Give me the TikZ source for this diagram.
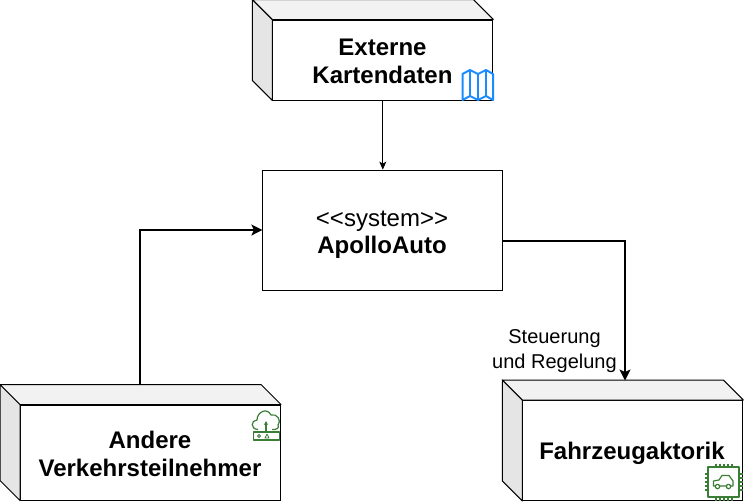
\documentclass[tikz,border=0pt]{standalone}
\usepackage{fontspec}
\setmainfont{Liberation Sans}
\usetikzlibrary{arrows.meta,calc}
\definecolor{mapblue}{HTML}{1A8CFF}
\definecolor{icongreen}{HTML}{3A7D34}
\tikzset{
  frontbox/.style={draw,fill=white,line width=1pt,inner sep=0pt},
  boxtext/.style={align=center,inner sep=0pt,font=\fontsize{24}{28}\selectfont\bfseries},
  sideface/.style={draw,line width=1pt,line join=round},
  flow/.style={line width=1.5pt,-{Stealth[length=11pt,width=11pt,inset=2.5pt]}},
  thinflow/.style={line width=0.8pt,-{Stealth[length=8pt,width=7pt,inset=2pt]}},
  mapicon/.style={draw=mapblue,line width=2pt,line join=round},
  greenicon/.style={draw=icongreen,line width=1.2pt,line join=round},
}
\newcommand{\sidefaces}[1]{
  \draw[sideface,fill=black!10] (#1.north west) -- ++(-20,-20) -- ($(#1.south west)+(-20,-20)$) -- (#1.south west) -- cycle;
  \draw[sideface,fill=black!5] (#1.north west) -- ++(-20,-20) -- ($(#1.north east)+(-20,-20)$) -- (#1.north east) -- cycle;
}
\begin{document}
\begin{tikzpicture}[x=1pt,y=-1pt]
  \useasboundingbox (0,0) rectangle (744,501);

  % boxes
  \node[frontbox,minimum width=220pt,minimum height=80pt] (karten) at (382.8,60) {};
  \node[frontbox,minimum width=260pt,minimum height=95pt] (andere) at (150.5,452.5) {};
  \node[frontbox,minimum width=220pt,minimum height=100pt] (aktorik) at (632.8,450.5) {};
  \sidefaces{karten}
  \sidefaces{andere}
  \sidefaces{aktorik}
  \node[boxtext] (kartentext) at (382.5,61) {Externe\\Kartendaten};
  \node[boxtext] (anderetext) at (150,453.5) {Andere\\Verkehrsteilnehmer};
  \node[boxtext] (aktoriktext) at (632,453) {Fahrzeugaktorik};
  \node[draw,line width=0.8pt,minimum width=240pt,minimum height=120pt] (apollo) at (382.8,230) {};
  \node[align=center,inner sep=0pt,font=\fontsize{24}{27}\selectfont] (apollotext) at (382,234.5) {{<}{<}system{>}{>}\\\bfseries ApolloAuto};

  % connectors
  \coordinate (andereout) at (140,385);
  \coordinate (apolloout) at ($(apollo.east)+(0,11)$);
  \coordinate (aktorikin) at (625,380.5);
  \draw[thinflow] (karten.south) -- (apollo.north);
  \draw[flow] (andereout) |- (apollo.west);
  \draw[flow] (apolloout) -| (aktorikin);
  \node[font=\fontsize{20}{25}\selectfont,align=center] (regelung) at (554.5,351.5) {Steuerung\\und Regelung};

  % map icon
  \draw[mapicon] (462.5,74) -- (470,70) -- (478,74) -- (486,70) -- (493,74) -- (493,100) -- (486,96) -- (478,100) -- (470,96) -- (462.5,100) -- cycle;
  \draw[mapicon] (470,70) -- (470,96) (478,74) -- (478,100) (486,70) -- (486,96);

  % network icon
  \draw[greenicon] (258,429.5) .. controls (250,429) and (251,420) .. (257,420)
    .. controls (257,412) and (267,407) .. (271,415)
    .. controls (277,413) and (282,421) .. (278,425)
    .. controls (280,428) and (276,430) .. (272,429.5);
  \draw[greenicon,-{Stealth[length=4pt,width=4pt]}] (266,432) -- (266,421);
  \draw[greenicon,fill=white] (253.5,432) rectangle (279.5,440);
  \draw[greenicon,line width=0.8pt] (259,436) circle (1.5);
  \draw[greenicon,line width=0.8pt] (265,438) -- (267,434) -- (269,438) -- cycle;

  % chip icon
  \draw[greenicon,fill=white] (708,467) rectangle (739,497);
  \foreach \p in {716,720,724,728,732} {
    \draw[greenicon] (\p,463.5) -- (\p,467);
    \draw[greenicon] (\p,497) -- (\p,500.5);
  }
  \foreach \q in {474,478,482,486,490} {
    \draw[greenicon] (704.5,\q) -- (708,\q);
    \draw[greenicon] (739,\q) -- (742.5,\q);
  }
  \draw[greenicon] (715,486) -- (713.5,486) -- (713.5,481) -- (719,480) -- (722,475.5) -- (729,475.5) -- (733,481) -- (733,486) -- (731,486)
    (720,486) -- (726,486);
  \draw[greenicon] (717.5,486.5) circle (2.2) (728.5,486.5) circle (2.2);
\end{tikzpicture}
\end{document}
